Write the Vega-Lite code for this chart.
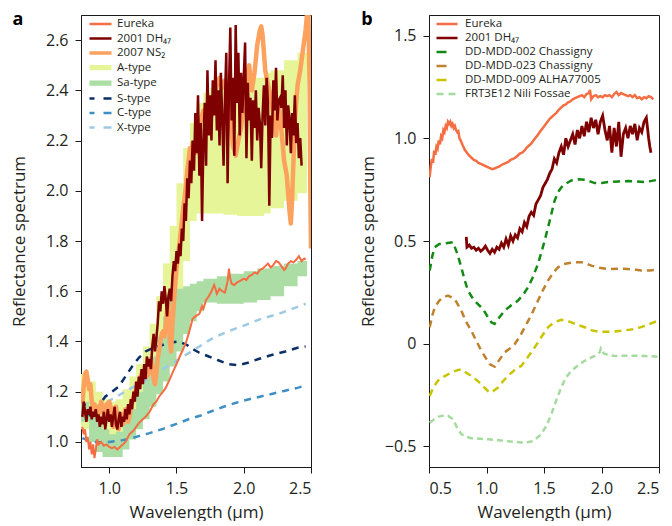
{
"$schema": "https://vega.github.io/schema/vega-lite/v6.json",
"padding": {"left": 10, "top": 10, "right": 5, "bottom": 0},
"config": {
  "font": "Open Sans",
  "view": {"stroke": "#1a1a1a", "strokeWidth": 1},
  "axis": {"grid": false, "domainColor": "#1a1a1a", "tickColor": "#1a1a1a", "tickSize": 6, "labelFontSize": 16, "labelColor": "#231f20", "titleFontSize": 17, "titleFontWeight": "normal", "titleColor": "#231f20", "labelPadding": 7, "labelFont": "Open Sans", "titleFont": "Open Sans"},
  "axisY": {"titlePadding": 17},
  "axisX": {"titlePadding": 8},
  "title": {"font": "Open Sans", "color": "#000"}
},
"datasets": {
"aband": [
{"s":"A-type","x":0.79,"lo":1.05,"hi":1.27},{"s":"A-type","x":0.85,"lo":1.03,"hi":1.24},{"s":"A-type","x":0.90,"lo":1.02,"hi":1.20},{"s":"A-type","x":0.95,"lo":1.02,"hi":1.17},{"s":"A-type","x":1.00,"lo":1.02,"hi":1.16},{"s":"A-type","x":1.05,"lo":1.03,"hi":1.17},{"s":"A-type","x":1.10,"lo":1.05,"hi":1.21},{"s":"A-type","x":1.15,"lo":1.08,"hi":1.26},{"s":"A-type","x":1.20,"lo":1.12,"hi":1.31},{"s":"A-type","x":1.25,"lo":1.16,"hi":1.38},{"s":"A-type","x":1.30,"lo":1.20,"hi":1.47},{"s":"A-type","x":1.35,"lo":1.26,"hi":1.58},{"s":"A-type","x":1.40,"lo":1.33,"hi":1.71},{"s":"A-type","x":1.45,"lo":1.42,"hi":1.86},{"s":"A-type","x":1.50,"lo":1.55,"hi":2.03},{"s":"A-type","x":1.55,"lo":1.72,"hi":2.17},{"s":"A-type","x":1.60,"lo":1.88,"hi":2.27},{"s":"A-type","x":1.65,"lo":1.91,"hi":2.35},{"s":"A-type","x":1.70,"lo":1.91,"hi":2.39},{"s":"A-type","x":1.75,"lo":1.91,"hi":2.41},{"s":"A-type","x":1.85,"lo":1.905,"hi":2.42},{"s":"A-type","x":1.95,"lo":1.90,"hi":2.44},{"s":"A-type","x":2.05,"lo":1.90,"hi":2.45},{"s":"A-type","x":2.15,"lo":1.91,"hi":2.47},{"s":"A-type","x":2.20,"lo":1.93,"hi":2.48},{"s":"A-type","x":2.30,"lo":1.96,"hi":2.52},{"s":"A-type","x":2.40,"lo":1.99,"hi":2.55},{"s":"A-type","x":2.47,"lo":2.00,"hi":2.55},
{"s":"Sa-type","x":0.79,"lo":1.08,"hi":1.16},{"s":"Sa-type","x":0.85,"lo":1.00,"hi":1.12},{"s":"Sa-type","x":0.90,"lo":0.96,"hi":1.08},{"s":"Sa-type","x":0.95,"lo":0.94,"hi":1.05},{"s":"Sa-type","x":1.00,"lo":0.94,"hi":1.03},{"s":"Sa-type","x":1.05,"lo":0.94,"hi":1.04},{"s":"Sa-type","x":1.10,"lo":0.97,"hi":1.08},{"s":"Sa-type","x":1.15,"lo":1.01,"hi":1.13},{"s":"Sa-type","x":1.20,"lo":1.05,"hi":1.20},{"s":"Sa-type","x":1.25,"lo":1.09,"hi":1.27},{"s":"Sa-type","x":1.30,"lo":1.14,"hi":1.34},{"s":"Sa-type","x":1.35,"lo":1.19,"hi":1.42},{"s":"Sa-type","x":1.40,"lo":1.24,"hi":1.50},{"s":"Sa-type","x":1.45,"lo":1.30,"hi":1.58},{"s":"Sa-type","x":1.50,"lo":1.36,"hi":1.61},{"s":"Sa-type","x":1.55,"lo":1.43,"hi":1.62},{"s":"Sa-type","x":1.60,"lo":1.48,"hi":1.63},{"s":"Sa-type","x":1.65,"lo":1.52,"hi":1.64},{"s":"Sa-type","x":1.70,"lo":1.555,"hi":1.65},{"s":"Sa-type","x":1.80,"lo":1.55,"hi":1.66},{"s":"Sa-type","x":1.90,"lo":1.55,"hi":1.67},{"s":"Sa-type","x":2.00,"lo":1.555,"hi":1.68},{"s":"Sa-type","x":2.10,"lo":1.565,"hi":1.69},{"s":"Sa-type","x":2.20,"lo":1.58,"hi":1.70},{"s":"Sa-type","x":2.30,"lo":1.62,"hi":1.71},{"s":"Sa-type","x":2.40,"lo":1.66,"hi":1.72},{"s":"Sa-type","x":2.47,"lo":1.68,"hi":1.73}
],
"aline": [
{"s":"S-type","x":0.80,"y":1.17},{"s":"S-type","x":0.83,"y":1.13},{"s":"S-type","x":0.86,"y":1.105},{"s":"S-type","x":0.89,"y":1.11},{"s":"S-type","x":0.93,"y":1.15},{"s":"S-type","x":0.97,"y":1.18},{"s":"S-type","x":1.02,"y":1.20},{"s":"S-type","x":1.07,"y":1.22},{"s":"S-type","x":1.12,"y":1.26},{"s":"S-type","x":1.17,"y":1.30},{"s":"S-type","x":1.22,"y":1.335},{"s":"S-type","x":1.27,"y":1.36},{"s":"S-type","x":1.33,"y":1.375},{"s":"S-type","x":1.39,"y":1.385},{"s":"S-type","x":1.45,"y":1.395},{"s":"S-type","x":1.52,"y":1.40},{"s":"S-type","x":1.58,"y":1.385},{"s":"S-type","x":1.62,"y":1.37},{"s":"S-type","x":1.67,"y":1.355},{"s":"S-type","x":1.74,"y":1.34},{"s":"S-type","x":1.81,"y":1.325},{"s":"S-type","x":1.88,"y":1.31},{"s":"S-type","x":1.96,"y":1.305},{"s":"S-type","x":2.03,"y":1.315},{"s":"S-type","x":2.11,"y":1.33},{"s":"S-type","x":2.20,"y":1.345},{"s":"S-type","x":2.31,"y":1.36},{"s":"S-type","x":2.40,"y":1.375},{"s":"S-type","x":2.46,"y":1.38},
{"s":"C-type","x":0.80,"y":1.015},{"s":"C-type","x":0.85,"y":1.005},{"s":"C-type","x":0.90,"y":1.0},{"s":"C-type","x":0.95,"y":0.998},{"s":"C-type","x":1.00,"y":1.0},{"s":"C-type","x":1.05,"y":1.003},{"s":"C-type","x":1.10,"y":1.007},{"s":"C-type","x":1.15,"y":1.012},{"s":"C-type","x":1.20,"y":1.02},{"s":"C-type","x":1.30,"y":1.035},{"s":"C-type","x":1.40,"y":1.052},{"s":"C-type","x":1.50,"y":1.072},{"s":"C-type","x":1.60,"y":1.092},{"s":"C-type","x":1.68,"y":1.105},{"s":"C-type","x":1.76,"y":1.122},{"s":"C-type","x":1.85,"y":1.14},{"s":"C-type","x":1.95,"y":1.157},{"s":"C-type","x":2.04,"y":1.17},{"s":"C-type","x":2.12,"y":1.18},{"s":"C-type","x":2.20,"y":1.19},{"s":"C-type","x":2.30,"y":1.203},{"s":"C-type","x":2.40,"y":1.215},{"s":"C-type","x":2.46,"y":1.225},
{"s":"X-type","x":0.90,"y":1.13},{"s":"X-type","x":1.02,"y":1.17},{"s":"X-type","x":1.15,"y":1.21},{"s":"X-type","x":1.27,"y":1.245},{"s":"X-type","x":1.40,"y":1.29},{"s":"X-type","x":1.52,"y":1.33},{"s":"X-type","x":1.64,"y":1.37},{"s":"X-type","x":1.76,"y":1.41},{"s":"X-type","x":1.88,"y":1.44},{"s":"X-type","x":2.01,"y":1.465},{"s":"X-type","x":2.13,"y":1.49},{"s":"X-type","x":2.26,"y":1.51},{"s":"X-type","x":2.36,"y":1.53},{"s":"X-type","x":2.46,"y":1.55},
{"s":"2007 NS₂","x":0.80,"y":1.15},{"s":"2007 NS₂","x":0.81,"y":1.22},{"s":"2007 NS₂","x":0.82,"y":1.27},{"s":"2007 NS₂","x":0.83,"y":1.28},{"s":"2007 NS₂","x":0.84,"y":1.25},{"s":"2007 NS₂","x":0.85,"y":1.21},{"s":"2007 NS₂","x":0.86,"y":1.23},{"s":"2007 NS₂","x":0.87,"y":1.16},{"s":"2007 NS₂","x":0.88,"y":1.13},{"s":"2007 NS₂","x":0.89,"y":1.15},{"s":"2007 NS₂","x":0.90,"y":1.12},{"s":"2007 NS₂","x":0.91,"y":1.14},{"s":"2007 NS₂","x":0.92,"y":1.11},{"s":"2007 NS₂","x":0.93,"y":1.13},{"s":"2007 NS₂","x":0.94,"y":1.16},{"s":"2007 NS₂","x":0.95,"y":1.14},{"s":"2007 NS₂","x":0.96,"y":1.10},{"s":"2007 NS₂","x":0.97,"y":1.12},{"s":"2007 NS₂","x":0.98,"y":1.15},{"s":"2007 NS₂","x":0.99,"y":1.13},{"s":"2007 NS₂","x":1.00,"y":1.16},{"s":"2007 NS₂","x":1.01,"y":1.14},{"s":"2007 NS₂","x":1.02,"y":1.10},{"s":"2007 NS₂","x":1.03,"y":1.06},{"s":"2007 NS₂","x":1.04,"y":1.11},{"s":"2007 NS₂","x":1.05,"y":1.14},{"s":"2007 NS₂","x":1.06,"y":1.10},{"s":"2007 NS₂","x":1.07,"y":1.05},{"s":"2007 NS₂","x":1.08,"y":1.08},{"s":"2007 NS₂","x":1.09,"y":1.11},{"s":"2007 NS₂","x":1.10,"y":1.07},{"s":"2007 NS₂","x":1.11,"y":1.10},{"s":"2007 NS₂","x":1.12,"y":1.13},{"s":"2007 NS₂","x":1.13,"y":1.11},{"s":"2007 NS₂","x":1.14,"y":1.08},{"s":"2007 NS₂","x":1.15,"y":1.10},{"s":"2007 NS₂","x":1.16,"y":1.13},{"s":"2007 NS₂","x":1.18,"y":1.18},{"s":"2007 NS₂","x":1.20,"y":1.21},{"s":"2007 NS₂","x":1.22,"y":1.24},{"s":"2007 NS₂","x":1.24,"y":1.27},{"s":"2007 NS₂","x":1.26,"y":1.28},{"s":"2007 NS₂","x":1.28,"y":1.26},{"s":"2007 NS₂","x":1.30,"y":1.28},{"s":"2007 NS₂","x":1.31,"y":1.33},{"s":"2007 NS₂","x":1.32,"y":1.30},{"s":"2007 NS₂","x":1.33,"y":1.25},{"s":"2007 NS₂","x":1.34,"y":1.23},{"s":"2007 NS₂","x":1.35,"y":1.27},{"s":"2007 NS₂","x":1.36,"y":1.33},{"s":"2007 NS₂","x":1.37,"y":1.36},{"s":"2007 NS₂","x":1.38,"y":1.40},{"s":"2007 NS₂","x":1.39,"y":1.43},{"s":"2007 NS₂","x":1.40,"y":1.44},{"s":"2007 NS₂","x":1.41,"y":1.42},{"s":"2007 NS₂","x":1.42,"y":1.46},{"s":"2007 NS₂","x":1.43,"y":1.52},{"s":"2007 NS₂","x":1.44,"y":1.55},{"s":"2007 NS₂","x":1.45,"y":1.40},{"s":"2007 NS₂","x":1.46,"y":1.36},{"s":"2007 NS₂","x":1.47,"y":1.47},{"s":"2007 NS₂","x":1.48,"y":1.55},{"s":"2007 NS₂","x":1.49,"y":1.62},{"s":"2007 NS₂","x":1.50,"y":1.69},{"s":"2007 NS₂","x":1.51,"y":1.74},{"s":"2007 NS₂","x":1.52,"y":1.78},{"s":"2007 NS₂","x":1.53,"y":1.83},{"s":"2007 NS₂","x":1.54,"y":1.88},{"s":"2007 NS₂","x":1.55,"y":1.93},{"s":"2007 NS₂","x":1.56,"y":1.97},{"s":"2007 NS₂","x":1.57,"y":2.02},{"s":"2007 NS₂","x":1.58,"y":2.08},{"s":"2007 NS₂","x":1.59,"y":2.12},{"s":"2007 NS₂","x":1.60,"y":2.17},{"s":"2007 NS₂","x":1.61,"y":2.13},{"s":"2007 NS₂","x":1.62,"y":2.19},{"s":"2007 NS₂","x":1.64,"y":2.15},{"s":"2007 NS₂","x":1.66,"y":2.22},{"s":"2007 NS₂","x":1.68,"y":2.28},{"s":"2007 NS₂","x":1.70,"y":2.32},{"s":"2007 NS₂","x":1.72,"y":2.26},{"s":"2007 NS₂","x":1.74,"y":2.36},{"s":"2007 NS₂","x":1.76,"y":2.30},{"s":"2007 NS₂","x":1.78,"y":2.38},{"s":"2007 NS₂","x":1.80,"y":2.42},{"s":"2007 NS₂","x":1.82,"y":2.45},{"s":"2007 NS₂","x":1.84,"y":2.41},{"s":"2007 NS₂","x":1.86,"y":2.44},{"s":"2007 NS₂","x":1.88,"y":2.40},{"s":"2007 NS₂","x":1.90,"y":2.30},{"s":"2007 NS₂","x":1.92,"y":2.18},{"s":"2007 NS₂","x":1.94,"y":2.14},{"s":"2007 NS₂","x":1.96,"y":2.20},{"s":"2007 NS₂","x":1.98,"y":2.25},{"s":"2007 NS₂","x":2.00,"y":2.35},{"s":"2007 NS₂","x":2.02,"y":2.44},{"s":"2007 NS₂","x":2.04,"y":2.50},{"s":"2007 NS₂","x":2.06,"y":2.40},{"s":"2007 NS₂","x":2.08,"y":2.47},{"s":"2007 NS₂","x":2.10,"y":2.58},{"s":"2007 NS₂","x":2.12,"y":2.64},{"s":"2007 NS₂","x":2.13,"y":2.655},{"s":"2007 NS₂","x":2.14,"y":2.62},{"s":"2007 NS₂","x":2.16,"y":2.48},{"s":"2007 NS₂","x":2.18,"y":2.42},{"s":"2007 NS₂","x":2.20,"y":2.38},{"s":"2007 NS₂","x":2.22,"y":2.30},{"s":"2007 NS₂","x":2.24,"y":2.22},{"s":"2007 NS₂","x":2.26,"y":2.35},{"s":"2007 NS₂","x":2.28,"y":2.24},{"s":"2007 NS₂","x":2.30,"y":2.12},{"s":"2007 NS₂","x":2.32,"y":2.06},{"s":"2007 NS₂","x":2.34,"y":1.92},{"s":"2007 NS₂","x":2.35,"y":1.87},{"s":"2007 NS₂","x":2.36,"y":1.97},{"s":"2007 NS₂","x":2.38,"y":2.28},{"s":"2007 NS₂","x":2.40,"y":2.42},{"s":"2007 NS₂","x":2.42,"y":2.48},{"s":"2007 NS₂","x":2.44,"y":2.56},{"s":"2007 NS₂","x":2.46,"y":2.64},{"s":"2007 NS₂","x":2.47,"y":2.70},{"s":"2007 NS₂","x":2.48,"y":2.72},{"s":"2007 NS₂","x":2.49,"y":2.40},{"s":"2007 NS₂","x":2.495,"y":2.00},{"s":"2007 NS₂","x":2.50,"y":1.77},
{"s":"2001 DH₄₇","x":0.80,"y":1.10},{"s":"2001 DH₄₇","x":0.81,"y":1.16},{"s":"2001 DH₄₇","x":0.82,"y":1.12},{"s":"2001 DH₄₇","x":0.83,"y":1.08},{"s":"2001 DH₄₇","x":0.84,"y":1.13},{"s":"2001 DH₄₇","x":0.85,"y":1.11},{"s":"2001 DH₄₇","x":0.86,"y":1.14},{"s":"2001 DH₄₇","x":0.87,"y":1.09},{"s":"2001 DH₄₇","x":0.88,"y":1.12},{"s":"2001 DH₄₇","x":0.89,"y":1.10},{"s":"2001 DH₄₇","x":0.90,"y":1.13},{"s":"2001 DH₄₇","x":0.91,"y":1.08},{"s":"2001 DH₄₇","x":0.92,"y":1.11},{"s":"2001 DH₄₇","x":0.93,"y":1.06},{"s":"2001 DH₄₇","x":0.94,"y":1.10},{"s":"2001 DH₄₇","x":0.95,"y":1.07},{"s":"2001 DH₄₇","x":0.96,"y":1.12},{"s":"2001 DH₄₇","x":0.97,"y":1.05},{"s":"2001 DH₄₇","x":0.98,"y":1.09},{"s":"2001 DH₄₇","x":0.99,"y":1.13},{"s":"2001 DH₄₇","x":1.00,"y":1.08},{"s":"2001 DH₄₇","x":1.01,"y":1.11},{"s":"2001 DH₄₇","x":1.02,"y":1.06},{"s":"2001 DH₄₇","x":1.03,"y":1.10},{"s":"2001 DH₄₇","x":1.04,"y":1.14},{"s":"2001 DH₄₇","x":1.05,"y":1.07},{"s":"2001 DH₄₇","x":1.06,"y":1.05},{"s":"2001 DH₄₇","x":1.07,"y":1.09},{"s":"2001 DH₄₇","x":1.08,"y":1.12},{"s":"2001 DH₄₇","x":1.09,"y":1.06},{"s":"2001 DH₄₇","x":1.10,"y":1.10},{"s":"2001 DH₄₇","x":1.11,"y":1.08},{"s":"2001 DH₄₇","x":1.12,"y":1.13},{"s":"2001 DH₄₇","x":1.13,"y":1.09},{"s":"2001 DH₄₇","x":1.14,"y":1.15},{"s":"2001 DH₄₇","x":1.15,"y":1.11},{"s":"2001 DH₄₇","x":1.16,"y":1.17},{"s":"2001 DH₄₇","x":1.17,"y":1.13},{"s":"2001 DH₄₇","x":1.18,"y":1.20},{"s":"2001 DH₄₇","x":1.19,"y":1.16},{"s":"2001 DH₄₇","x":1.20,"y":1.24},{"s":"2001 DH₄₇","x":1.21,"y":1.18},{"s":"2001 DH₄₇","x":1.22,"y":1.26},{"s":"2001 DH₄₇","x":1.23,"y":1.21},{"s":"2001 DH₄₇","x":1.24,"y":1.29},{"s":"2001 DH₄₇","x":1.25,"y":1.23},{"s":"2001 DH₄₇","x":1.26,"y":1.31},{"s":"2001 DH₄₇","x":1.27,"y":1.25},{"s":"2001 DH₄₇","x":1.28,"y":1.34},{"s":"2001 DH₄₇","x":1.29,"y":1.30},{"s":"2001 DH₄₇","x":1.30,"y":1.33},{"s":"2001 DH₄₇","x":1.31,"y":1.29},{"s":"2001 DH₄₇","x":1.32,"y":1.38},{"s":"2001 DH₄₇","x":1.33,"y":1.43},{"s":"2001 DH₄₇","x":1.34,"y":1.36},{"s":"2001 DH₄₇","x":1.35,"y":1.41},{"s":"2001 DH₄₇","x":1.36,"y":1.47},{"s":"2001 DH₄₇","x":1.37,"y":1.56},{"s":"2001 DH₄₇","x":1.38,"y":1.52},{"s":"2001 DH₄₇","x":1.39,"y":1.60},{"s":"2001 DH₄₇","x":1.40,"y":1.55},{"s":"2001 DH₄₇","x":1.41,"y":1.62},{"s":"2001 DH₄₇","x":1.42,"y":1.57},{"s":"2001 DH₄₇","x":1.43,"y":1.50},{"s":"2001 DH₄₇","x":1.44,"y":1.58},{"s":"2001 DH₄₇","x":1.45,"y":1.61},{"s":"2001 DH₄₇","x":1.46,"y":1.56},{"s":"2001 DH₄₇","x":1.47,"y":1.66},{"s":"2001 DH₄₇","x":1.48,"y":1.72},{"s":"2001 DH₄₇","x":1.49,"y":1.68},{"s":"2001 DH₄₇","x":1.50,"y":1.76},{"s":"2001 DH₄₇","x":1.51,"y":1.71},{"s":"2001 DH₄₇","x":1.52,"y":1.79},{"s":"2001 DH₄₇","x":1.53,"y":1.74},{"s":"2001 DH₄₇","x":1.54,"y":1.85},{"s":"2001 DH₄₇","x":1.55,"y":1.80},{"s":"2001 DH₄₇","x":1.56,"y":1.95},{"s":"2001 DH₄₇","x":1.57,"y":1.88},{"s":"2001 DH₄₇","x":1.58,"y":2.05},{"s":"2001 DH₄₇","x":1.59,"y":1.97},{"s":"2001 DH₄₇","x":1.60,"y":2.12},{"s":"2001 DH₄₇","x":1.61,"y":2.03},{"s":"2001 DH₄₇","x":1.62,"y":2.20},{"s":"2001 DH₄₇","x":1.63,"y":2.08},{"s":"2001 DH₄₇","x":1.64,"y":2.31},{"s":"2001 DH₄₇","x":1.65,"y":2.15},{"s":"2001 DH₄₇","x":1.66,"y":2.38},{"s":"2001 DH₄₇","x":1.67,"y":2.06},{"s":"2001 DH₄₇","x":1.68,"y":2.27},{"s":"2001 DH₄₇","x":1.69,"y":1.88},{"s":"2001 DH₄₇","x":1.70,"y":2.19},{"s":"2001 DH₄₇","x":1.71,"y":2.35},{"s":"2001 DH₄₇","x":1.72,"y":2.10},{"s":"2001 DH₄₇","x":1.73,"y":2.48},{"s":"2001 DH₄₇","x":1.74,"y":2.22},{"s":"2001 DH₄₇","x":1.75,"y":2.38},{"s":"2001 DH₄₇","x":1.76,"y":2.20},{"s":"2001 DH₄₇","x":1.77,"y":2.44},{"s":"2001 DH₄₇","x":1.78,"y":2.30},{"s":"2001 DH₄₇","x":1.79,"y":2.52},{"s":"2001 DH₄₇","x":1.80,"y":2.24},{"s":"2001 DH₄₇","x":1.81,"y":2.40},{"s":"2001 DH₄₇","x":1.82,"y":2.18},{"s":"2001 DH₄₇","x":1.83,"y":2.47},{"s":"2001 DH₄₇","x":1.84,"y":2.29},{"s":"2001 DH₄₇","x":1.85,"y":2.10},{"s":"2001 DH₄₇","x":1.86,"y":2.36},{"s":"2001 DH₄₇","x":1.87,"y":2.55},{"s":"2001 DH₄₇","x":1.88,"y":2.03},{"s":"2001 DH₄₇","x":1.89,"y":2.40},{"s":"2001 DH₄₇","x":1.90,"y":2.65},{"s":"2001 DH₄₇","x":1.91,"y":2.28},{"s":"2001 DH₄₇","x":1.92,"y":2.45},{"s":"2001 DH₄₇","x":1.93,"y":2.14},{"s":"2001 DH₄₇","x":1.94,"y":2.66},{"s":"2001 DH₄₇","x":1.95,"y":2.35},{"s":"2001 DH₄₇","x":1.96,"y":2.55},{"s":"2001 DH₄₇","x":1.97,"y":2.22},{"s":"2001 DH₄₇","x":1.98,"y":2.47},{"s":"2001 DH₄₇","x":1.99,"y":2.31},{"s":"2001 DH₄₇","x":2.00,"y":2.45},{"s":"2001 DH₄₇","x":2.01,"y":2.59},{"s":"2001 DH₄₇","x":2.02,"y":2.13},{"s":"2001 DH₄₇","x":2.03,"y":2.43},{"s":"2001 DH₄₇","x":2.04,"y":2.28},{"s":"2001 DH₄₇","x":2.05,"y":2.37},{"s":"2001 DH₄₇","x":2.06,"y":2.12},{"s":"2001 DH₄₇","x":2.07,"y":2.36},{"s":"2001 DH₄₇","x":2.08,"y":2.25},{"s":"2001 DH₄₇","x":2.09,"y":2.40},{"s":"2001 DH₄₇","x":2.10,"y":2.20},{"s":"2001 DH₄₇","x":2.11,"y":2.33},{"s":"2001 DH₄₇","x":2.12,"y":2.27},{"s":"2001 DH₄₇","x":2.13,"y":2.09},{"s":"2001 DH₄₇","x":2.14,"y":2.30},{"s":"2001 DH₄₇","x":2.15,"y":2.42},{"s":"2001 DH₄₇","x":2.16,"y":2.26},{"s":"2001 DH₄₇","x":2.17,"y":2.45},{"s":"2001 DH₄₇","x":2.18,"y":2.35},{"s":"2001 DH₄₇","x":2.19,"y":1.94},{"s":"2001 DH₄₇","x":2.20,"y":2.30},{"s":"2001 DH₄₇","x":2.21,"y":2.21},{"s":"2001 DH₄₇","x":2.22,"y":2.44},{"s":"2001 DH₄₇","x":2.23,"y":2.32},{"s":"2001 DH₄₇","x":2.24,"y":2.49},{"s":"2001 DH₄₇","x":2.25,"y":2.28},{"s":"2001 DH₄₇","x":2.26,"y":2.36},{"s":"2001 DH₄₇","x":2.27,"y":2.37},{"s":"2001 DH₄₇","x":2.28,"y":2.33},{"s":"2001 DH₄₇","x":2.29,"y":2.46},{"s":"2001 DH₄₇","x":2.30,"y":2.25},{"s":"2001 DH₄₇","x":2.31,"y":2.40},{"s":"2001 DH₄₇","x":2.32,"y":2.18},{"s":"2001 DH₄₇","x":2.33,"y":2.34},{"s":"2001 DH₄₇","x":2.34,"y":2.29},{"s":"2001 DH₄₇","x":2.35,"y":2.15},{"s":"2001 DH₄₇","x":2.36,"y":2.31},{"s":"2001 DH₄₇","x":2.37,"y":2.22},{"s":"2001 DH₄₇","x":2.38,"y":2.38},{"s":"2001 DH₄₇","x":2.39,"y":2.19},{"s":"2001 DH₄₇","x":2.40,"y":2.27},{"s":"2001 DH₄₇","x":2.41,"y":2.13},{"s":"2001 DH₄₇","x":2.42,"y":2.21},{"s":"2001 DH₄₇","x":2.43,"y":2.10},
{"s":"Eureka","x":0.80,"y":1.06},{"s":"Eureka","x":0.81,"y":1.03},{"s":"Eureka","x":0.82,"y":1.05},{"s":"Eureka","x":0.83,"y":1.00},{"s":"Eureka","x":0.84,"y":1.02},{"s":"Eureka","x":0.85,"y":0.97},{"s":"Eureka","x":0.86,"y":1.00},{"s":"Eureka","x":0.87,"y":0.95},{"s":"Eureka","x":0.88,"y":0.99},{"s":"Eureka","x":0.89,"y":0.935},{"s":"Eureka","x":0.90,"y":0.97},{"s":"Eureka","x":0.91,"y":1.01},{"s":"Eureka","x":0.92,"y":0.99},{"s":"Eureka","x":0.94,"y":1.00},{"s":"Eureka","x":0.96,"y":0.985},{"s":"Eureka","x":0.98,"y":0.99},{"s":"Eureka","x":1.00,"y":0.98},{"s":"Eureka","x":1.02,"y":0.975},{"s":"Eureka","x":1.04,"y":0.98},{"s":"Eureka","x":1.06,"y":0.97},{"s":"Eureka","x":1.08,"y":0.98},{"s":"Eureka","x":1.10,"y":0.99},{"s":"Eureka","x":1.12,"y":1.00},{"s":"Eureka","x":1.15,"y":1.03},{"s":"Eureka","x":1.18,"y":1.045},{"s":"Eureka","x":1.20,"y":1.06},{"s":"Eureka","x":1.22,"y":1.075},{"s":"Eureka","x":1.25,"y":1.09},{"s":"Eureka","x":1.27,"y":1.10},{"s":"Eureka","x":1.30,"y":1.12},{"s":"Eureka","x":1.33,"y":1.15},{"s":"Eureka","x":1.35,"y":1.16},{"s":"Eureka","x":1.37,"y":1.18},{"s":"Eureka","x":1.40,"y":1.20},{"s":"Eureka","x":1.42,"y":1.215},{"s":"Eureka","x":1.45,"y":1.25},{"s":"Eureka","x":1.47,"y":1.275},{"s":"Eureka","x":1.50,"y":1.31},{"s":"Eureka","x":1.52,"y":1.335},{"s":"Eureka","x":1.55,"y":1.37},{"s":"Eureka","x":1.57,"y":1.395},{"s":"Eureka","x":1.59,"y":1.43},{"s":"Eureka","x":1.61,"y":1.47},{"s":"Eureka","x":1.62,"y":1.49},{"s":"Eureka","x":1.64,"y":1.50},{"s":"Eureka","x":1.67,"y":1.51},{"s":"Eureka","x":1.69,"y":1.54},{"s":"Eureka","x":1.70,"y":1.53},{"s":"Eureka","x":1.72,"y":1.565},{"s":"Eureka","x":1.74,"y":1.58},{"s":"Eureka","x":1.76,"y":1.60},{"s":"Eureka","x":1.78,"y":1.625},{"s":"Eureka","x":1.79,"y":1.61},{"s":"Eureka","x":1.80,"y":1.59},{"s":"Eureka","x":1.82,"y":1.61},{"s":"Eureka","x":1.84,"y":1.60},{"s":"Eureka","x":1.86,"y":1.595},{"s":"Eureka","x":1.88,"y":1.64},{"s":"Eureka","x":1.89,"y":1.69},{"s":"Eureka","x":1.90,"y":1.65},{"s":"Eureka","x":1.91,"y":1.63},{"s":"Eureka","x":1.93,"y":1.625},{"s":"Eureka","x":1.95,"y":1.635},{"s":"Eureka","x":1.97,"y":1.64},{"s":"Eureka","x":2.00,"y":1.65},{"s":"Eureka","x":2.02,"y":1.645},{"s":"Eureka","x":2.04,"y":1.66},{"s":"Eureka","x":2.06,"y":1.665},{"s":"Eureka","x":2.08,"y":1.675},{"s":"Eureka","x":2.10,"y":1.67},{"s":"Eureka","x":2.12,"y":1.685},{"s":"Eureka","x":2.14,"y":1.69},{"s":"Eureka","x":2.16,"y":1.70},{"s":"Eureka","x":2.18,"y":1.71},{"s":"Eureka","x":2.20,"y":1.695},{"s":"Eureka","x":2.22,"y":1.705},{"s":"Eureka","x":2.24,"y":1.72},{"s":"Eureka","x":2.26,"y":1.715},{"s":"Eureka","x":2.28,"y":1.70},{"s":"Eureka","x":2.30,"y":1.685},{"s":"Eureka","x":2.31,"y":1.69},{"s":"Eureka","x":2.33,"y":1.71},{"s":"Eureka","x":2.35,"y":1.72},{"s":"Eureka","x":2.37,"y":1.715},{"s":"Eureka","x":2.39,"y":1.725},{"s":"Eureka","x":2.41,"y":1.74},{"s":"Eureka","x":2.43,"y":1.72},{"s":"Eureka","x":2.45,"y":1.73},{"s":"Eureka","x":2.46,"y":1.725}
],
"bline": [
{"s":"DD-MDD-002 Chassigny","x":0.506,"y":0.356},{"s":"DD-MDD-002 Chassigny","x":0.53,"y":0.43},{"s":"DD-MDD-002 Chassigny","x":0.55,"y":0.47},{"s":"DD-MDD-002 Chassigny","x":0.59,"y":0.485},{"s":"DD-MDD-002 Chassigny","x":0.622,"y":0.486},{"s":"DD-MDD-002 Chassigny","x":0.66,"y":0.49},{"s":"DD-MDD-002 Chassigny","x":0.709,"y":0.494},{"s":"DD-MDD-002 Chassigny","x":0.745,"y":0.44},{"s":"DD-MDD-002 Chassigny","x":0.781,"y":0.372},{"s":"DD-MDD-002 Chassigny","x":0.81,"y":0.31},{"s":"DD-MDD-002 Chassigny","x":0.839,"y":0.259},{"s":"DD-MDD-002 Chassigny","x":0.87,"y":0.23},{"s":"DD-MDD-002 Chassigny","x":0.897,"y":0.21},{"s":"DD-MDD-002 Chassigny","x":0.93,"y":0.19},{"s":"DD-MDD-002 Chassigny","x":0.97,"y":0.169},{"s":"DD-MDD-002 Chassigny","x":1.0,"y":0.14},{"s":"DD-MDD-002 Chassigny","x":1.042,"y":0.104},{"s":"DD-MDD-002 Chassigny","x":1.07,"y":0.096},{"s":"DD-MDD-002 Chassigny","x":1.10,"y":0.12},{"s":"DD-MDD-002 Chassigny","x":1.158,"y":0.161},{"s":"DD-MDD-002 Chassigny","x":1.21,"y":0.185},{"s":"DD-MDD-002 Chassigny","x":1.274,"y":0.21},{"s":"DD-MDD-002 Chassigny","x":1.32,"y":0.24},{"s":"DD-MDD-002 Chassigny","x":1.361,"y":0.275},{"s":"DD-MDD-002 Chassigny","x":1.40,"y":0.32},{"s":"DD-MDD-002 Chassigny","x":1.448,"y":0.389},{"s":"DD-MDD-002 Chassigny","x":1.48,"y":0.45},{"s":"DD-MDD-002 Chassigny","x":1.506,"y":0.502},{"s":"DD-MDD-002 Chassigny","x":1.55,"y":0.60},{"s":"DD-MDD-002 Chassigny","x":1.593,"y":0.698},{"s":"DD-MDD-002 Chassigny","x":1.63,"y":0.745},{"s":"DD-MDD-002 Chassigny","x":1.665,"y":0.771},{"s":"DD-MDD-002 Chassigny","x":1.738,"y":0.795},{"s":"DD-MDD-002 Chassigny","x":1.80,"y":0.80},{"s":"DD-MDD-002 Chassigny","x":1.854,"y":0.798},{"s":"DD-MDD-002 Chassigny","x":1.90,"y":0.79},{"s":"DD-MDD-002 Chassigny","x":1.941,"y":0.782},{"s":"DD-MDD-002 Chassigny","x":2.0,"y":0.782},{"s":"DD-MDD-002 Chassigny","x":2.057,"y":0.787},{"s":"DD-MDD-002 Chassigny","x":2.15,"y":0.79},{"s":"DD-MDD-002 Chassigny","x":2.23,"y":0.792},{"s":"DD-MDD-002 Chassigny","x":2.30,"y":0.79},{"s":"DD-MDD-002 Chassigny","x":2.38,"y":0.787},{"s":"DD-MDD-002 Chassigny","x":2.49,"y":0.798},
{"s":"DD-MDD-023 Chassigny","x":0.506,"y":0.08},{"s":"DD-MDD-023 Chassigny","x":0.53,"y":0.14},{"s":"DD-MDD-023 Chassigny","x":0.55,"y":0.177},{"s":"DD-MDD-023 Chassigny","x":0.59,"y":0.21},{"s":"DD-MDD-023 Chassigny","x":0.622,"y":0.226},{"s":"DD-MDD-023 Chassigny","x":0.665,"y":0.234},{"s":"DD-MDD-023 Chassigny","x":0.723,"y":0.218},{"s":"DD-MDD-023 Chassigny","x":0.781,"y":0.161},{"s":"DD-MDD-023 Chassigny","x":0.82,"y":0.11},{"s":"DD-MDD-023 Chassigny","x":0.868,"y":0.063},{"s":"DD-MDD-023 Chassigny","x":0.91,"y":0.015},{"s":"DD-MDD-023 Chassigny","x":0.955,"y":-0.034},{"s":"DD-MDD-023 Chassigny","x":1.0,"y":-0.075},{"s":"DD-MDD-023 Chassigny","x":1.027,"y":-0.099},{"s":"DD-MDD-023 Chassigny","x":1.071,"y":-0.112},{"s":"DD-MDD-023 Chassigny","x":1.11,"y":-0.08},{"s":"DD-MDD-023 Chassigny","x":1.158,"y":-0.042},{"s":"DD-MDD-023 Chassigny","x":1.20,"y":-0.025},{"s":"DD-MDD-023 Chassigny","x":1.245,"y":-0.002},{"s":"DD-MDD-023 Chassigny","x":1.29,"y":0.035},{"s":"DD-MDD-023 Chassigny","x":1.332,"y":0.08},{"s":"DD-MDD-023 Chassigny","x":1.39,"y":0.14},{"s":"DD-MDD-023 Chassigny","x":1.448,"y":0.21},{"s":"DD-MDD-023 Chassigny","x":1.49,"y":0.26},{"s":"DD-MDD-023 Chassigny","x":1.535,"y":0.307},{"s":"DD-MDD-023 Chassigny","x":1.58,"y":0.345},{"s":"DD-MDD-023 Chassigny","x":1.622,"y":0.372},{"s":"DD-MDD-023 Chassigny","x":1.67,"y":0.387},{"s":"DD-MDD-023 Chassigny","x":1.709,"y":0.392},{"s":"DD-MDD-023 Chassigny","x":1.77,"y":0.397},{"s":"DD-MDD-023 Chassigny","x":1.825,"y":0.397},{"s":"DD-MDD-023 Chassigny","x":1.87,"y":0.39},{"s":"DD-MDD-023 Chassigny","x":1.912,"y":0.38},{"s":"DD-MDD-023 Chassigny","x":1.98,"y":0.37},{"s":"DD-MDD-023 Chassigny","x":2.057,"y":0.364},{"s":"DD-MDD-023 Chassigny","x":2.15,"y":0.365},{"s":"DD-MDD-023 Chassigny","x":2.23,"y":0.364},{"s":"DD-MDD-023 Chassigny","x":2.30,"y":0.36},{"s":"DD-MDD-023 Chassigny","x":2.346,"y":0.356},{"s":"DD-MDD-023 Chassigny","x":2.42,"y":0.357},{"s":"DD-MDD-023 Chassigny","x":2.49,"y":0.36},
{"s":"DD-MDD-009 ALHA77005","x":0.506,"y":-0.254},{"s":"DD-MDD-009 ALHA77005","x":0.54,"y":-0.21},{"s":"DD-MDD-009 ALHA77005","x":0.578,"y":-0.18},{"s":"DD-MDD-009 ALHA77005","x":0.63,"y":-0.16},{"s":"DD-MDD-009 ALHA77005","x":0.694,"y":-0.14},{"s":"DD-MDD-009 ALHA77005","x":0.74,"y":-0.13},{"s":"DD-MDD-009 ALHA77005","x":0.781,"y":-0.124},{"s":"DD-MDD-009 ALHA77005","x":0.82,"y":-0.14},{"s":"DD-MDD-009 ALHA77005","x":0.868,"y":-0.156},{"s":"DD-MDD-009 ALHA77005","x":0.91,"y":-0.175},{"s":"DD-MDD-009 ALHA77005","x":0.955,"y":-0.197},{"s":"DD-MDD-009 ALHA77005","x":0.99,"y":-0.218},{"s":"DD-MDD-009 ALHA77005","x":1.027,"y":-0.238},{"s":"DD-MDD-009 ALHA77005","x":1.06,"y":-0.23},{"s":"DD-MDD-009 ALHA77005","x":1.10,"y":-0.213},{"s":"DD-MDD-009 ALHA77005","x":1.14,"y":-0.185},{"s":"DD-MDD-009 ALHA77005","x":1.187,"y":-0.156},{"s":"DD-MDD-009 ALHA77005","x":1.24,"y":-0.13},{"s":"DD-MDD-009 ALHA77005","x":1.303,"y":-0.107},{"s":"DD-MDD-009 ALHA77005","x":1.36,"y":-0.065},{"s":"DD-MDD-009 ALHA77005","x":1.419,"y":-0.018},{"s":"DD-MDD-009 ALHA77005","x":1.48,"y":0.035},{"s":"DD-MDD-009 ALHA77005","x":1.535,"y":0.08},{"s":"DD-MDD-009 ALHA77005","x":1.59,"y":0.105},{"s":"DD-MDD-009 ALHA77005","x":1.65,"y":0.116},{"s":"DD-MDD-009 ALHA77005","x":1.70,"y":0.112},{"s":"DD-MDD-009 ALHA77005","x":1.738,"y":0.104},{"s":"DD-MDD-009 ALHA77005","x":1.80,"y":0.09},{"s":"DD-MDD-009 ALHA77005","x":1.854,"y":0.08},{"s":"DD-MDD-009 ALHA77005","x":1.91,"y":0.066},{"s":"DD-MDD-009 ALHA77005","x":1.97,"y":0.059},{"s":"DD-MDD-009 ALHA77005","x":2.04,"y":0.058},{"s":"DD-MDD-009 ALHA77005","x":2.115,"y":0.059},{"s":"DD-MDD-009 ALHA77005","x":2.20,"y":0.065},{"s":"DD-MDD-009 ALHA77005","x":2.289,"y":0.072},{"s":"DD-MDD-009 ALHA77005","x":2.35,"y":0.082},{"s":"DD-MDD-009 ALHA77005","x":2.403,"y":0.093},{"s":"DD-MDD-009 ALHA77005","x":2.45,"y":0.103},{"s":"DD-MDD-009 ALHA77005","x":2.49,"y":0.112},
{"s":"FRT3E12 Nili Fossae","x":0.506,"y":-0.384},{"s":"FRT3E12 Nili Fossae","x":0.54,"y":-0.37},{"s":"FRT3E12 Nili Fossae","x":0.578,"y":-0.356},{"s":"FRT3E12 Nili Fossae","x":0.62,"y":-0.35},{"s":"FRT3E12 Nili Fossae","x":0.665,"y":-0.351},{"s":"FRT3E12 Nili Fossae","x":0.709,"y":-0.367},{"s":"FRT3E12 Nili Fossae","x":0.745,"y":-0.41},{"s":"FRT3E12 Nili Fossae","x":0.781,"y":-0.44},{"s":"FRT3E12 Nili Fossae","x":0.82,"y":-0.452},{"s":"FRT3E12 Nili Fossae","x":0.868,"y":-0.46},{"s":"FRT3E12 Nili Fossae","x":0.94,"y":-0.462},{"s":"FRT3E12 Nili Fossae","x":1.013,"y":-0.465},{"s":"FRT3E12 Nili Fossae","x":1.08,"y":-0.468},{"s":"FRT3E12 Nili Fossae","x":1.158,"y":-0.473},{"s":"FRT3E12 Nili Fossae","x":1.23,"y":-0.477},{"s":"FRT3E12 Nili Fossae","x":1.303,"y":-0.481},{"s":"FRT3E12 Nili Fossae","x":1.35,"y":-0.48},{"s":"FRT3E12 Nili Fossae","x":1.39,"y":-0.476},{"s":"FRT3E12 Nili Fossae","x":1.43,"y":-0.462},{"s":"FRT3E12 Nili Fossae","x":1.477,"y":-0.44},{"s":"FRT3E12 Nili Fossae","x":1.52,"y":-0.40},{"s":"FRT3E12 Nili Fossae","x":1.564,"y":-0.343},{"s":"FRT3E12 Nili Fossae","x":1.61,"y":-0.27},{"s":"FRT3E12 Nili Fossae","x":1.65,"y":-0.213},{"s":"FRT3E12 Nili Fossae","x":1.69,"y":-0.165},{"s":"FRT3E12 Nili Fossae","x":1.738,"y":-0.132},{"s":"FRT3E12 Nili Fossae","x":1.80,"y":-0.103},{"s":"FRT3E12 Nili Fossae","x":1.854,"y":-0.083},{"s":"FRT3E12 Nili Fossae","x":1.90,"y":-0.07},{"s":"FRT3E12 Nili Fossae","x":1.941,"y":-0.059},{"s":"FRT3E12 Nili Fossae","x":1.97,"y":-0.05},{"s":"FRT3E12 Nili Fossae","x":1.984,"y":-0.042},{"s":"FRT3E12 Nili Fossae","x":1.995,"y":-0.022},{"s":"FRT3E12 Nili Fossae","x":2.005,"y":-0.03},{"s":"FRT3E12 Nili Fossae","x":2.02,"y":-0.048},{"s":"FRT3E12 Nili Fossae","x":2.06,"y":-0.055},{"s":"FRT3E12 Nili Fossae","x":2.115,"y":-0.06},{"s":"FRT3E12 Nili Fossae","x":2.2,"y":-0.058},{"s":"FRT3E12 Nili Fossae","x":2.29,"y":-0.058},{"s":"FRT3E12 Nili Fossae","x":2.38,"y":-0.06},{"s":"FRT3E12 Nili Fossae","x":2.49,"y":-0.063},
{"s":"2001 DH₄₇","x":0.824,"y":0.52},{"s":"2001 DH₄₇","x":0.83,"y":0.47},{"s":"2001 DH₄₇","x":0.85,"y":0.48},{"s":"2001 DH₄₇","x":0.87,"y":0.465},{"s":"2001 DH₄₇","x":0.89,"y":0.47},{"s":"2001 DH₄₇","x":0.91,"y":0.455},{"s":"2001 DH₄₇","x":0.93,"y":0.465},{"s":"2001 DH₄₇","x":0.95,"y":0.45},{"s":"2001 DH₄₇","x":0.97,"y":0.46},{"s":"2001 DH₄₇","x":0.99,"y":0.475},{"s":"2001 DH₄₇","x":1.01,"y":0.455},{"s":"2001 DH₄₇","x":1.03,"y":0.44},{"s":"2001 DH₄₇","x":1.05,"y":0.46},{"s":"2001 DH₄₇","x":1.07,"y":0.445},{"s":"2001 DH₄₇","x":1.09,"y":0.47},{"s":"2001 DH₄₇","x":1.11,"y":0.46},{"s":"2001 DH₄₇","x":1.13,"y":0.49},{"s":"2001 DH₄₇","x":1.15,"y":0.47},{"s":"2001 DH₄₇","x":1.17,"y":0.51},{"s":"2001 DH₄₇","x":1.19,"y":0.48},{"s":"2001 DH₄₇","x":1.21,"y":0.525},{"s":"2001 DH₄₇","x":1.23,"y":0.50},{"s":"2001 DH₄₇","x":1.25,"y":0.53},{"s":"2001 DH₄₇","x":1.27,"y":0.515},{"s":"2001 DH₄₇","x":1.29,"y":0.56},{"s":"2001 DH₄₇","x":1.31,"y":0.545},{"s":"2001 DH₄₇","x":1.33,"y":0.59},{"s":"2001 DH₄₇","x":1.35,"y":0.57},{"s":"2001 DH₄₇","x":1.37,"y":0.62},{"s":"2001 DH₄₇","x":1.39,"y":0.64},{"s":"2001 DH₄₇","x":1.41,"y":0.625},{"s":"2001 DH₄₇","x":1.43,"y":0.68},{"s":"2001 DH₄₇","x":1.45,"y":0.70},{"s":"2001 DH₄₇","x":1.47,"y":0.72},{"s":"2001 DH₄₇","x":1.49,"y":0.76},{"s":"2001 DH₄₇","x":1.51,"y":0.78},{"s":"2001 DH₄₇","x":1.53,"y":0.80},{"s":"2001 DH₄₇","x":1.55,"y":0.83},{"s":"2001 DH₄₇","x":1.57,"y":0.85},{"s":"2001 DH₄₇","x":1.59,"y":0.90},{"s":"2001 DH₄₇","x":1.61,"y":0.88},{"s":"2001 DH₄₇","x":1.63,"y":0.93},{"s":"2001 DH₄₇","x":1.65,"y":0.96},{"s":"2001 DH₄₇","x":1.67,"y":0.92},{"s":"2001 DH₄₇","x":1.69,"y":1.00},{"s":"2001 DH₄₇","x":1.71,"y":0.96},{"s":"2001 DH₄₇","x":1.73,"y":0.99},{"s":"2001 DH₄₇","x":1.75,"y":1.02},{"s":"2001 DH₄₇","x":1.77,"y":0.97},{"s":"2001 DH₄₇","x":1.79,"y":1.04},{"s":"2001 DH₄₇","x":1.81,"y":1.00},{"s":"2001 DH₄₇","x":1.83,"y":1.06},{"s":"2001 DH₄₇","x":1.85,"y":1.01},{"s":"2001 DH₄₇","x":1.87,"y":1.08},{"s":"2001 DH₄₇","x":1.89,"y":1.03},{"s":"2001 DH₄₇","x":1.91,"y":1.10},{"s":"2001 DH₄₇","x":1.93,"y":1.05},{"s":"2001 DH₄₇","x":1.95,"y":1.09},{"s":"2001 DH₄₇","x":1.97,"y":1.02},{"s":"2001 DH₄₇","x":1.99,"y":1.08},{"s":"2001 DH₄₇","x":2.01,"y":1.11},{"s":"2001 DH₄₇","x":2.03,"y":1.04},{"s":"2001 DH₄₇","x":2.05,"y":0.99},{"s":"2001 DH₄₇","x":2.07,"y":1.06},{"s":"2001 DH₄₇","x":2.09,"y":0.93},{"s":"2001 DH₄₇","x":2.11,"y":1.05},{"s":"2001 DH₄₇","x":2.13,"y":0.96},{"s":"2001 DH₄₇","x":2.15,"y":1.08},{"s":"2001 DH₄₇","x":2.17,"y":0.91},{"s":"2001 DH₄₇","x":2.19,"y":1.02},{"s":"2001 DH₄₇","x":2.21,"y":1.05},{"s":"2001 DH₄₇","x":2.23,"y":1.00},{"s":"2001 DH₄₇","x":2.25,"y":1.06},{"s":"2001 DH₄₇","x":2.27,"y":1.02},{"s":"2001 DH₄₇","x":2.29,"y":1.07},{"s":"2001 DH₄₇","x":2.31,"y":0.99},{"s":"2001 DH₄₇","x":2.33,"y":1.05},{"s":"2001 DH₄₇","x":2.35,"y":1.03},{"s":"2001 DH₄₇","x":2.37,"y":1.08},{"s":"2001 DH₄₇","x":2.39,"y":1.10},{"s":"2001 DH₄₇","x":2.41,"y":1.00},{"s":"2001 DH₄₇","x":2.42,"y":0.96},{"s":"2001 DH₄₇","x":2.43,"y":0.93},
{"s":"Eureka","x":0.505,"y":0.81},{"s":"Eureka","x":0.515,"y":0.86},{"s":"Eureka","x":0.525,"y":0.90},{"s":"Eureka","x":0.535,"y":0.88},{"s":"Eureka","x":0.545,"y":0.94},{"s":"Eureka","x":0.555,"y":0.92},{"s":"Eureka","x":0.565,"y":0.96},{"s":"Eureka","x":0.575,"y":0.95},{"s":"Eureka","x":0.585,"y":0.99},{"s":"Eureka","x":0.595,"y":0.97},{"s":"Eureka","x":0.605,"y":1.01},{"s":"Eureka","x":0.615,"y":1.00},{"s":"Eureka","x":0.625,"y":1.04},{"s":"Eureka","x":0.635,"y":1.03},{"s":"Eureka","x":0.645,"y":1.06},{"s":"Eureka","x":0.655,"y":1.05},{"s":"Eureka","x":0.665,"y":1.08},{"s":"Eureka","x":0.675,"y":1.07},{"s":"Eureka","x":0.685,"y":1.08},{"s":"Eureka","x":0.695,"y":1.06},{"s":"Eureka","x":0.705,"y":1.07},{"s":"Eureka","x":0.715,"y":1.05},{"s":"Eureka","x":0.725,"y":1.06},{"s":"Eureka","x":0.735,"y":1.04},{"s":"Eureka","x":0.745,"y":1.03},{"s":"Eureka","x":0.755,"y":1.035},{"s":"Eureka","x":0.765,"y":1.00},{"s":"Eureka","x":0.775,"y":0.99},{"s":"Eureka","x":0.79,"y":0.97},{"s":"Eureka","x":0.81,"y":0.945},{"s":"Eureka","x":0.83,"y":0.93},{"s":"Eureka","x":0.85,"y":0.915},{"s":"Eureka","x":0.87,"y":0.905},{"s":"Eureka","x":0.89,"y":0.895},{"s":"Eureka","x":0.91,"y":0.89},{"s":"Eureka","x":0.93,"y":0.88},{"s":"Eureka","x":0.95,"y":0.875},{"s":"Eureka","x":0.97,"y":0.87},{"s":"Eureka","x":0.99,"y":0.865},{"s":"Eureka","x":1.01,"y":0.86},{"s":"Eureka","x":1.03,"y":0.855},{"s":"Eureka","x":1.05,"y":0.85},{"s":"Eureka","x":1.07,"y":0.853},{"s":"Eureka","x":1.09,"y":0.858},{"s":"Eureka","x":1.11,"y":0.862},{"s":"Eureka","x":1.13,"y":0.87},{"s":"Eureka","x":1.15,"y":0.875},{"s":"Eureka","x":1.17,"y":0.88},{"s":"Eureka","x":1.19,"y":0.885},{"s":"Eureka","x":1.21,"y":0.895},{"s":"Eureka","x":1.23,"y":0.90},{"s":"Eureka","x":1.25,"y":0.905},{"s":"Eureka","x":1.27,"y":0.915},{"s":"Eureka","x":1.29,"y":0.925},{"s":"Eureka","x":1.31,"y":0.93},{"s":"Eureka","x":1.33,"y":0.94},{"s":"Eureka","x":1.35,"y":0.955},{"s":"Eureka","x":1.37,"y":0.965},{"s":"Eureka","x":1.39,"y":0.975},{"s":"Eureka","x":1.41,"y":0.99},{"s":"Eureka","x":1.43,"y":1.005},{"s":"Eureka","x":1.45,"y":1.02},{"s":"Eureka","x":1.47,"y":1.035},{"s":"Eureka","x":1.49,"y":1.05},{"s":"Eureka","x":1.51,"y":1.065},{"s":"Eureka","x":1.53,"y":1.08},{"s":"Eureka","x":1.55,"y":1.095},{"s":"Eureka","x":1.57,"y":1.105},{"s":"Eureka","x":1.59,"y":1.115},{"s":"Eureka","x":1.61,"y":1.125},{"s":"Eureka","x":1.63,"y":1.14},{"s":"Eureka","x":1.65,"y":1.15},{"s":"Eureka","x":1.67,"y":1.16},{"s":"Eureka","x":1.69,"y":1.165},{"s":"Eureka","x":1.71,"y":1.175},{"s":"Eureka","x":1.73,"y":1.18},{"s":"Eureka","x":1.75,"y":1.19},{"s":"Eureka","x":1.77,"y":1.195},{"s":"Eureka","x":1.79,"y":1.20},{"s":"Eureka","x":1.81,"y":1.205},{"s":"Eureka","x":1.83,"y":1.21},{"s":"Eureka","x":1.85,"y":1.20},{"s":"Eureka","x":1.87,"y":1.215},{"s":"Eureka","x":1.89,"y":1.22},{"s":"Eureka","x":1.90,"y":1.235},{"s":"Eureka","x":1.91,"y":1.19},{"s":"Eureka","x":1.93,"y":1.205},{"s":"Eureka","x":1.95,"y":1.21},{"s":"Eureka","x":1.97,"y":1.20},{"s":"Eureka","x":1.99,"y":1.205},{"s":"Eureka","x":2.01,"y":1.20},{"s":"Eureka","x":2.03,"y":1.21},{"s":"Eureka","x":2.05,"y":1.205},{"s":"Eureka","x":2.07,"y":1.21},{"s":"Eureka","x":2.09,"y":1.20},{"s":"Eureka","x":2.11,"y":1.215},{"s":"Eureka","x":2.13,"y":1.225},{"s":"Eureka","x":2.15,"y":1.21},{"s":"Eureka","x":2.17,"y":1.22},{"s":"Eureka","x":2.19,"y":1.215},{"s":"Eureka","x":2.21,"y":1.21},{"s":"Eureka","x":2.23,"y":1.205},{"s":"Eureka","x":2.25,"y":1.21},{"s":"Eureka","x":2.27,"y":1.20},{"s":"Eureka","x":2.29,"y":1.21},{"s":"Eureka","x":2.31,"y":1.195},{"s":"Eureka","x":2.33,"y":1.20},{"s":"Eureka","x":2.35,"y":1.19},{"s":"Eureka","x":2.37,"y":1.20},{"s":"Eureka","x":2.39,"y":1.195},{"s":"Eureka","x":2.41,"y":1.205},{"s":"Eureka","x":2.43,"y":1.20},{"s":"Eureka","x":2.45,"y":1.19}
]
},
"spacing": 46,
"resolve": {"scale": {"color": "independent", "x": "independent", "y": "independent"}, "legend": {"color": "independent"}},
"hconcat": [
{
 "width": 230, "height": 452,
 "title": {"text": "a", "anchor": "start", "frame": "bounds", "fontSize": 18, "fontWeight": "bold", "dx": 2, "dy": 18},
 "layer": [
  {"data": {"name": "aband"}, "mark": {"type": "area", "interpolate": "step-after", "clip": true, "opacity": 1},
   "encoding": {
    "x": {"field": "x", "type": "quantitative", "title": "Wavelength (μm)", "scale": {"domain": [0.79, 2.5], "nice": false, "zero": false}, "axis": {"values": [1, 1.5, 2, 2.5], "format": ".1f"}},
    "y": {"field": "lo", "type": "quantitative", "title": "Reflectance spectrum", "scale": {"domain": [0.9, 2.7], "nice": false, "zero": false}, "axis": {"values": [1, 1.2, 1.4, 1.6, 1.8, 2.0, 2.2, 2.4, 2.6], "format": ".1f"}},
    "y2": {"field": "hi"},
    "color": {"field": "s", "type": "nominal",
      "scale": {"domain": ["Eureka", "2001 DH₄₇", "2007 NS₂", "A-type", "Sa-type", "S-type", "C-type", "X-type"], "range": ["#f46d43", "#7f0000", "#fda25e", "#e6f598", "#abdda4", "#0b2f66", "#3f8fc5", "#9ccae3"]},
      "legend": {"title": null, "orient": "none", "legendX": 7, "legendY": 2, "symbolSize": 121, "labelFontSize": 11.5, "labelColor": "#231f20", "labelOffset": 15, "rowPadding": 1.5, "padding": 0, "symbolOpacity": 1, "symbolStrokeWidth": 2.5,
        "symbolType": {"expr": "datum.value == 'A-type' || datum.value == 'Sa-type' ? 'M-1,-0.25L3,-0.25M-1,-0.08L3,-0.08M-1,0.08L3,0.08M-1,0.25L3,0.25' : (datum.value == '2007 NS₂' ? 'M-1,-0.1L3,-0.1M-1,0.1L3,0.1' : 'M-1,0L3,0')"},
        "symbolDash": {"expr": "indexof(['S-type','C-type','X-type'], datum.value) >= 0 ? [5,9,8,30] : [1,0]"}}
    }
   }},
  {"data": {"name": "aline"}, "transform": [{"filter": "datum.s == 'S-type' || datum.s == 'C-type' || datum.s == 'X-type'"}],
   "mark": {"type": "line", "strokeWidth": 2.5, "strokeDash": [7, 6], "clip": true},
   "encoding": {"x": {"field": "x", "type": "quantitative", "title": "Wavelength (μm)"}, "y": {"field": "y", "type": "quantitative", "title": "Reflectance spectrum"}, "color": {"field": "s", "type": "nominal"}}},
  {"data": {"name": "aline"}, "transform": [{"filter": "datum.s == '2007 NS₂'"}],
   "mark": {"type": "line", "strokeWidth": 4.5, "clip": true, "strokeJoin": "round"},
   "encoding": {"x": {"field": "x", "type": "quantitative", "title": "Wavelength (μm)"}, "y": {"field": "y", "type": "quantitative", "title": "Reflectance spectrum"}, "color": {"field": "s", "type": "nominal"}}},
  {"data": {"name": "aline"}, "transform": [{"filter": "datum.s == '2001 DH₄₇'"}],
   "mark": {"type": "line", "strokeWidth": 2.5, "clip": true},
   "encoding": {"x": {"field": "x", "type": "quantitative", "title": "Wavelength (μm)"}, "y": {"field": "y", "type": "quantitative", "title": "Reflectance spectrum"}, "color": {"field": "s", "type": "nominal"}}},
  {"data": {"name": "aline"}, "transform": [{"filter": "datum.s == 'Eureka'"}],
   "mark": {"type": "line", "strokeWidth": 2, "clip": true},
   "encoding": {"x": {"field": "x", "type": "quantitative", "title": "Wavelength (μm)"}, "y": {"field": "y", "type": "quantitative", "title": "Reflectance spectrum"}, "color": {"field": "s", "type": "nominal"}}}
 ]
},
{
 "width": 230, "height": 452,
 "title": {"text": "b", "anchor": "start", "frame": "bounds", "fontSize": 18, "fontWeight": "bold", "dx": 2, "dy": 18},
 "data": {"name": "bline"},
 "layer": [
  {"transform": [{"filter": "indexof(['DD-MDD-002 Chassigny','DD-MDD-023 Chassigny','DD-MDD-009 ALHA77005'], datum.s) >= 0"}],
   "mark": {"type": "line", "strokeWidth": 2.5, "strokeDash": [7, 5], "clip": true},
   "encoding": {
    "x": {"field": "x", "type": "quantitative", "title": "Wavelength (μm)", "scale": {"domain": [0.5, 2.5], "nice": false, "zero": false}, "axis": {"values": [0.5, 1, 1.5, 2, 2.5], "format": ".1f"}},
    "y": {"field": "y", "type": "quantitative", "title": "Reflectance spectrum", "scale": {"domain": [-0.6, 1.6], "nice": false, "zero": false}, "axis": {"values": [-0.5, 0, 0.5, 1, 1.5], "titlePadding": 7, "labelExpr": "datum.value == 0 ? '0' : format(datum.value, '.1f')"}},
    "color": {"field": "s", "type": "nominal",
      "scale": {"domain": ["Eureka", "2001 DH₄₇", "DD-MDD-002 Chassigny", "DD-MDD-023 Chassigny", "DD-MDD-009 ALHA77005", "FRT3E12 Nili Fossae"], "range": ["#f46d43", "#7f0000", "#138a13", "#bf812d", "#c9c400", "#a6dba0"]},
      "legend": {"title": null, "orient": "none", "legendX": 6, "legendY": 3, "symbolSize": 81, "labelFontSize": 11.5, "labelColor": "#231f20", "labelOffset": 18, "rowPadding": 2, "padding": 0, "symbolOpacity": 1, "symbolStrokeWidth": 2.5,
        "symbolType": "M-1,0L3.67,0",
        "symbolDash": {"expr": "datum.value == 'Eureka' || datum.value == '2001 DH₄₇' ? [1,0] : (datum.value == 'FRT3E12 Nili Fossae' ? [7,5,7,30] : [10,30])"}}
    }
   }},
  {"transform": [{"filter": "datum.s == 'FRT3E12 Nili Fossae'"}],
   "mark": {"type": "line", "strokeWidth": 2.5, "strokeDash": [6, 4], "clip": true},
   "encoding": {"x": {"field": "x", "type": "quantitative", "title": "Wavelength (μm)"}, "y": {"field": "y", "type": "quantitative", "title": "Reflectance spectrum"}, "color": {"field": "s", "type": "nominal"}}},
  {"transform": [{"filter": "datum.s == '2001 DH₄₇'"}],
   "mark": {"type": "line", "strokeWidth": 2.8, "clip": true},
   "encoding": {"x": {"field": "x", "type": "quantitative", "title": "Wavelength (μm)"}, "y": {"field": "y", "type": "quantitative", "title": "Reflectance spectrum"}, "color": {"field": "s", "type": "nominal"}}},
  {"transform": [{"filter": "datum.s == 'Eureka'"}],
   "mark": {"type": "line", "strokeWidth": 2.5, "clip": true},
   "encoding": {"x": {"field": "x", "type": "quantitative", "title": "Wavelength (μm)"}, "y": {"field": "y", "type": "quantitative", "title": "Reflectance spectrum"}, "color": {"field": "s", "type": "nominal"}}}
 ]
}
]
}
